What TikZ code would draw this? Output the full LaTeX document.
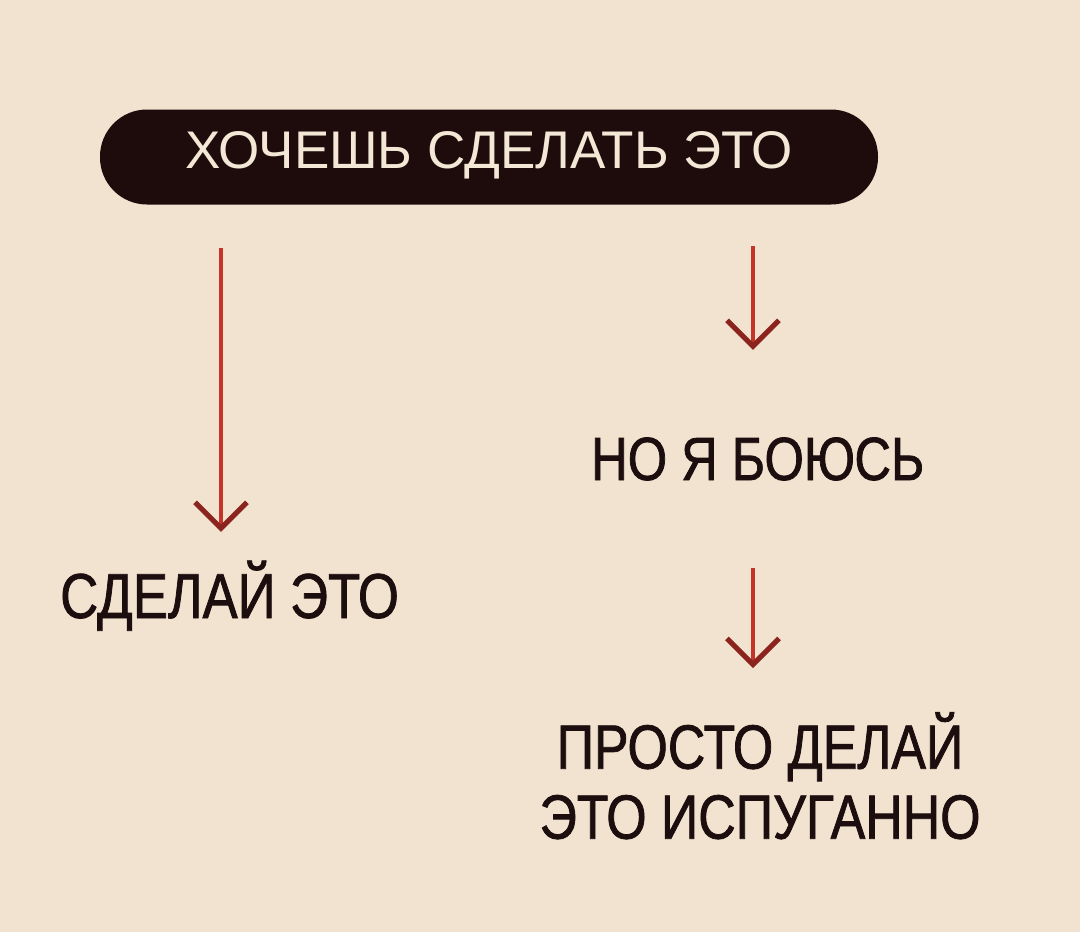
\documentclass[tikz,border=0pt]{standalone}
\usepackage{fontspec}
\setmainfont{Liberation Sans}[FakeStretch=0.83, FakeBold=1.2]
\newfontfamily\wideface{Liberation Sans}
\usetikzlibrary{arrows.meta}

\definecolor{paper}{RGB}{241,227,207}
\definecolor{ink}{RGB}{28,14,14}
\definecolor{pillink}{RGB}{30,11,11}
\definecolor{pilltext}{RGB}{243,231,214}
\definecolor{arrowred}{RGB}{196,52,40}
\definecolor{headred}{RGB}{140,36,30}

\begin{document}
\begin{tikzpicture}[x=1pt, y=-1pt,
    every node/.style={inner sep=0pt, text=ink},
    pill/.style={fill=pillink, text=pilltext, rounded corners=47pt,
        minimum width=778pt, minimum height=95pt, text height=37pt, text depth=14pt,
        font=\wideface\fontsize{53}{53}\selectfont},
    answer/.style={anchor=base west, text height=47pt, text depth=0pt,
        font=\fontsize{60}{70}\selectfont},
    redarrow/.style={draw=arrowred, line width=3.5pt,
        -{Straight Barb[length=26pt, width=52pt, line width=5pt, color=headred]}}]
    \fill[paper] (0,0) rectangle (1080,932);

    % question and answers
    \node[pill] (want) at (489,157) {ХОЧЕШЬ СДЕЛАТЬ ЭТО};
    \node[answer, font=\fontsize{63.5}{70}\selectfont] (doit) at (60,618) {СДЕЛАЙ ЭТО};
    \node[answer, font=\fontsize{61}{70}\selectfont] (afraid) at (591,480) {НО Я БОЮСЬ};
    \node[anchor=north, align=center, font=\fontsize{62.5}{70}\selectfont] (scared) at (760,712) {ПРОСТО ДЕЛАЙ\\ЭТО ИСПУГАННО};

    % arrows
    \coordinate (leftx) at (221,0);
    \coordinate (rightx) at (753,0);
    \draw[redarrow, shorten <=43pt, shorten >=39pt] (want.south -| leftx) -- (doit.north -| leftx);
    \draw[redarrow, shorten <=41pt, shorten >=83pt] (want.south -| rightx) -- (afraid.north -| rightx);
    \draw[redarrow, shorten <=88pt, shorten >=44pt] (afraid.south -| rightx) -- (scared.north -| rightx);
\end{tikzpicture}
\end{document}
